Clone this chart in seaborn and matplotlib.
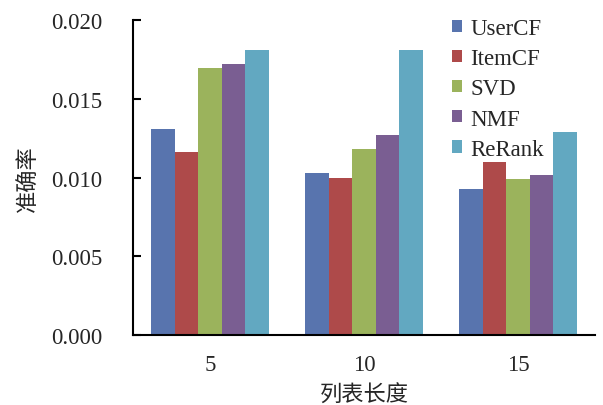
import matplotlib
matplotlib.use("Agg")
import matplotlib.pyplot as plt
import seaborn as sns
import pandas as pd
from matplotlib.patches import Patch

# Precision of each recommender at different list lengths
list_lengths = ["5", "10", "15"]
methods = ["UserCF", "ItemCF", "SVD", "NMF", "ReRank"]
usercf = [0.0131, 0.0103, 0.0093]
itemcf = [0.0116, 0.0100, 0.0110]
svd = [0.0170, 0.0118, 0.0099]
nmf = [0.0172, 0.0127, 0.0102]
rerank = [0.0181, 0.0181, 0.0129]
colors = ["#5874AE", "#AE4A4A", "#9BB35C", "#7A5E92", "#62A8C1"]

series = [usercf, itemcf, svd, nmf, rerank]
df = pd.DataFrame(
    [(L, m, v[i]) for m, v in zip(methods, series) for i, L in enumerate(list_lengths)],
    columns=["length", "method", "precision"],
)

sns.set_style("white")
plt.rcParams["font.family"] = ["Liberation Serif", "Noto Sans CJK SC"]

fig = plt.figure(figsize=(6.03, 4.06), dpi=100)
ax = fig.add_axes([133 / 603, 1 - 336 / 406, (595 - 133) / 603, (336 - 21.3) / 406])

sns.barplot(data=df, x="length", y="precision", hue="method",
            order=list_lengths, hue_order=methods, palette=colors,
            width=0.766, gap=0, saturation=1, ax=ax, legend=False)
for p in ax.patches:
    p.set_edgecolor("none")

ax.set_xlim(-0.5, 2.5)
ax.set_ylim(0, 0.020)
ax.set_yticks([0.0, 0.005, 0.010, 0.015, 0.020])
ax.set_yticklabels([f"{t:.3f}" for t in [0.0, 0.005, 0.010, 0.015, 0.020]])
ax.set_xticks([0, 1, 2])
ax.set_xticklabels(list_lengths)
ax.set_xticks([0.5, 1.5, 2.5], minor=True)
ax.tick_params(axis="x", which="major", length=0, labelsize=16.5, pad=14)
ax.tick_params(axis="x", which="minor", direction="in", length=6, width=1.5, color="black")
ax.tick_params(axis="y", direction="in", length=6, width=1.5, color="black",
               labelsize=16.5, pad=22, left=True)

for s in ["top", "right"]:
    ax.spines[s].set_visible(False)
for s in ["left", "bottom"]:
    ax.spines[s].set_color("black")
    ax.spines[s].set_linewidth(1.5)

ax.set_xlabel("列表长度", family=["Noto Sans CJK SC"], fontsize=16, labelpad=5)
ax.set_ylabel("准确率", family=["Noto Sans CJK SC"], fontsize=16, labelpad=8)

handles = [Patch(facecolor=c, edgecolor="none", label=m) for m, c in zip(methods, colors)]
fig.legend(handles=handles, loc="upper left", bbox_to_anchor=(452 / 603, 1 - 19 / 406),
           frameon=False, fontsize=16.5, handlelength=0.45, handleheight=0.45,
           handletextpad=0.35, labelspacing=0.4, borderpad=0, borderaxespad=0)

fig.savefig("out.png", dpi=100)
